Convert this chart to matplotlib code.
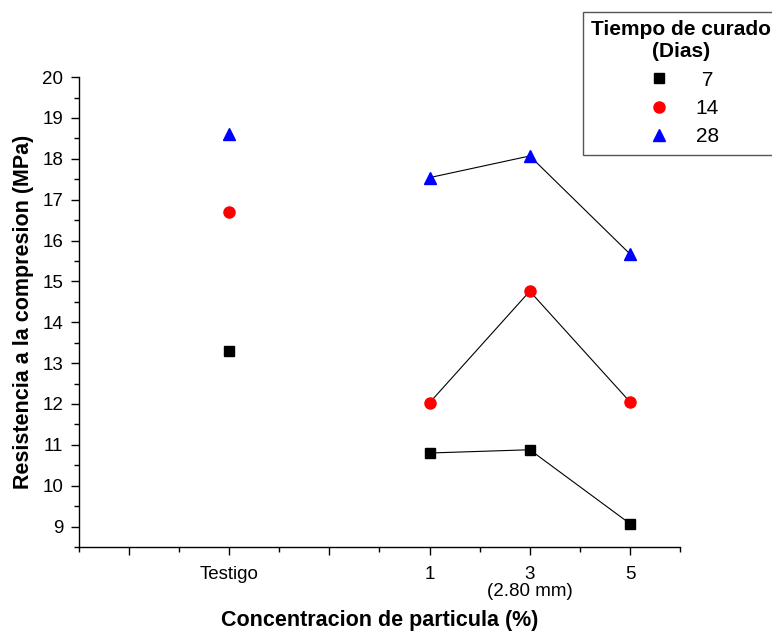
import numpy as np
from matplotlib import pyplot as plt
from matplotlib.ticker import MultipleLocator, FixedLocator

plt.rcParams['font.family'] = ['Liberation Sans', 'DejaVu Sans']

# x positions on the chart scale (Testigo placed apart from 1, 3, 5)
x_testigo = -3
x_conc = [1, 3, 5]
tick_pos = [-3, 1, 3, 5]
tick_lab = ['Testigo', '1', '3\n(2.80 mm)', '5']

dias = [' 7', '14', '28']
testigo = [13.3, 16.7, 18.6]
r7 = [10.8, 10.88, 9.07]
r14 = [12.03, 14.76, 12.05]
r28 = [17.54, 18.07, 15.67]

fig = plt.figure(figsize=(7.72, 6.32), dpi=100)
ax = fig.add_axes([0.102, 0.1345, 0.779, 0.7435])

series = [r7, r14, r28]
marks = ['s', 'o', '^']
cols = ['black', 'red', 'blue']
sizes = [7, 8, 9]
for i in range(3):
    ax.plot(x_conc, series[i], '-', color='black', lw=0.8, zorder=1)
    ax.plot(x_conc + [x_testigo], series[i] + [testigo[i]], marks[i], color=cols[i],
            ms=sizes[i], ls='none', label=dias[i], zorder=2)

ax.set_xlim(-6, 6)
ax.set_ylim(8.5, 20)
ax.set_xticks([-5, -3, -1, 1, 3, 5])
ax.set_xticklabels(['', tick_lab[0], '', tick_lab[1], tick_lab[2], tick_lab[3]], linespacing=1.0)
ax.xaxis.set_minor_locator(FixedLocator([-6, -4, -2, 0, 2, 4, 6]))
ax.yaxis.set_major_locator(MultipleLocator(1))
ax.yaxis.set_minor_locator(MultipleLocator(0.5))
ax.tick_params(which='major', direction='out', length=6, width=1, labelsize=13.5, colors='black')
ax.tick_params(which='minor', direction='out', length=3.5, width=1)
ax.tick_params(axis='x', which='major', pad=8)
ax.tick_params(axis='y', which='major', pad=5)
ax.spines['top'].set_visible(False)
ax.spines['right'].set_visible(False)
ax.spines['left'].set_linewidth(1)
ax.spines['bottom'].set_linewidth(1)

ax.set_xlabel('Concentracion de particula (%)', fontsize=15.5, fontweight='bold', labelpad=7)
ax.set_ylabel('Resistencia a la compresion (MPa)', fontsize=15.5, fontweight='bold', labelpad=6)

leg = fig.legend(loc='upper left', bbox_to_anchor=(583/772, 1-12/632), borderaxespad=0,
                 title='Tiempo de curado\n(Dias)',
                 fontsize=15, title_fontproperties={'weight': 'bold', 'size': 15},
                 fancybox=False, edgecolor='#555555', framealpha=1, handletextpad=1.0,
                 labelspacing=0.45, borderpad=0.4, handlelength=1.5)
leg._legend_box.align = 'center'
leg.get_title().set_multialignment('center')
leg.get_frame().set_linewidth(1)

plt.savefig('out.png', dpi=100)
